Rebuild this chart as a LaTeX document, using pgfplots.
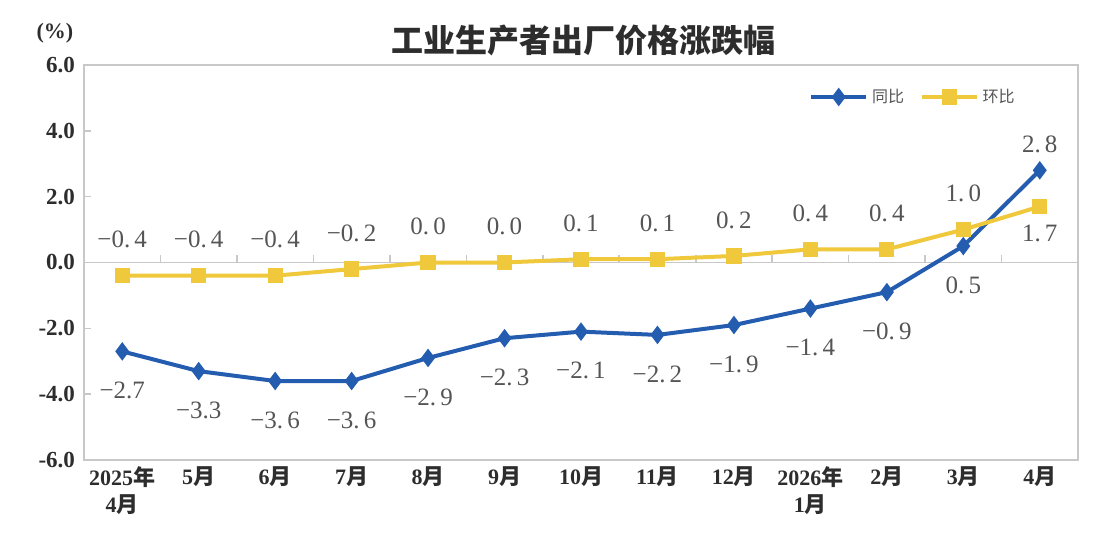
\documentclass[border=0pt]{standalone}
\usepackage{fontspec}
\setmainfont{Liberation Serif}
\newfontfamily\cjk{Noto Sans CJK SC}
\usepackage{pgfplots}
\pgfplotsset{compat=1.18}

\definecolor{yoyblue}{RGB}{36,92,176}
\definecolor{momyellow}{RGB}{240,200,60}
\definecolor{framegray}{RGB}{200,200,200}
\definecolor{labelgray}{RGB}{85,85,85}
\definecolor{titlegray}{RGB}{45,45,45}

\newcommand\nian{{\cjk\bfseries 年}}
\newcommand\yue{{\cjk\bfseries 月}}

\pgfplotsset{
  vlabel/.style={
    draw=none, mark=none, forget plot,
    point meta=explicit symbolic,
    nodes near coords,
    every node near coord/.style={anchor=center, yshift=#1,
      font=\fontsize{12.5}{14}\selectfont, text=labelgray},
  },
}

\begin{document}
\begin{tikzpicture}
\useasboundingbox (-42pt,-44pt) rectangle (517pt,230pt);
\begin{axis}[
  at={(0,0)}, anchor=south west,
  scale only axis, width=497pt, height=197.5pt,
  xmin=-0.5, xmax=12.5, ymin=-6, ymax=6,
  axis line style={framegray, line width=0.8pt},
  xtick={0,...,12},
  xticklabels={2025\nian\\4\yue, 5\yue, 6\yue, 7\yue, 8\yue, 9\yue, 10\yue,
    11\yue, 12\yue, 2026\nian\\1\yue, 2\yue, 3\yue, 4\yue},
  x tick label style={font=\bfseries\fontsize{11}{13.5}\selectfont,
    align=center, text=titlegray},
  xtick style={draw=none},
  ytick={-6,-4,...,6},
  yticklabels={-6.0,-4.0,-2.0,0.0,2.0,4.0,6.0},
  y tick label style={font=\bfseries\fontsize{11.5}{13}\selectfont, text=titlegray,
    xshift=-1pt},
  tick align=inside, ytick pos=left, major tick length=3.5pt,
  ytick style={framegray, line width=0.8pt},
  legend style={at={(0.835,0.919)}, anchor=center, draw=none, fill=none,
    legend columns=2, font=\cjk\fontsize{8}{10}\selectfont, text=labelgray,
    /tikz/every even column/.append style={column sep=6pt}},
  legend image code/.code={%
    \draw[mark repeat=2, mark phase=2] plot coordinates {(0cm,0cm) (0.48cm,0cm) (0.96cm,0cm)};},
]
% zero line with ticks between months
\draw[framegray, line width=0.8pt] (axis cs:-0.5,0) -- (axis cs:12.5,0);
\pgfplotsinvokeforeach{0.5,1.5,2.5,3.5,4.5,5.5,6.5,7.5,8.5,9.5,10.5,11.5}{
  \draw[framegray, line width=0.8pt] (axis cs:#1,0) -- ++(0pt,4pt);
}

\addplot[yoyblue, line width=2pt, mark=diamond*, mark size=3pt] coordinates {
  (0,-2.7) (1,-3.3) (2,-3.6) (3,-3.6) (4,-2.9) (5,-2.3) (6,-2.1)
  (7,-2.2) (8,-1.9) (9,-1.4) (10,-0.9) (11,0.5) (12,2.8)
};
\addlegendentry{同比}
\addplot[momyellow, line width=2pt, mark=square*, mark size=2.8pt] coordinates {
  (0,-0.4) (1,-0.4) (2,-0.4) (3,-0.2) (4,0.0) (5,0.0) (6,0.1)
  (7,0.1) (8,0.2) (9,0.4) (10,0.4) (11,1.0) (12,1.7)
};
\addlegendentry{环比}

% data labels
\addplot[vlabel=-19.5pt] coordinates {
  (0,-2.7) [−2.7] (1,-3.3) [−3.3] (2,-3.6) [−3.\,6] (3,-3.6) [−3.\,6]
  (4,-2.9) [−2.\,9] (5,-2.3) [−2.\,3] (6,-2.1) [−2.\,1] (7,-2.2) [−2.\,2]
  (8,-1.9) [−1.\,9] (9,-1.4) [−1.\,4] (10,-0.9) [−0.\,9] (11,0.5) [0.\,5]
};
\addplot[vlabel=13pt] coordinates {(12,2.8) [2.\,8]};
\addplot[vlabel=18pt] coordinates {
  (0,-0.4) [−0.\,4] (1,-0.4) [−0.\,4] (2,-0.4) [−0.\,4] (3,-0.2) [−0.\,2]
  (4,0.0) [0.\,0] (5,0.0) [0.\,0] (6,0.1) [0.\,1] (7,0.1) [0.\,1]
  (8,0.2) [0.\,2] (9,0.4) [0.\,4] (10,0.4) [0.\,4] (11,1.0) [1.\,0]
};
\addplot[vlabel=-13.5pt] coordinates {(12,1.7) [1.\,7]};
\end{axis}

\node[font=\cjk\bfseries\fontsize{16}{18}\selectfont, text=titlegray]
  at (249.5pt,210pt) {工业生产者出厂价格涨跌幅};
\node[font=\bfseries\fontsize{11}{13}\selectfont, text=titlegray]
  at (-14.5pt,213.5pt) {(\%)};
\end{tikzpicture}
\end{document}
